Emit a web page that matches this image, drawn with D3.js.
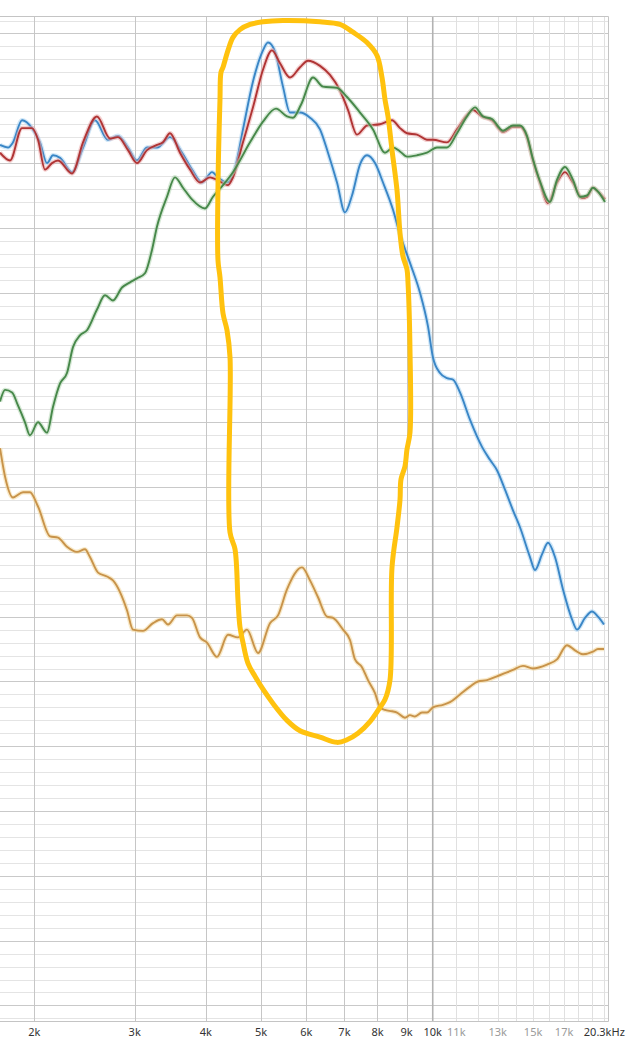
<!DOCTYPE html>
<html>
<head>
<meta charset="utf-8">
<script src="https://cdn.jsdelivr.net/npm/d3@7"></script>
<style>
  html, body { margin: 0; padding: 0; background: #ffffff; }
  svg { display: block; }
</style>
</head>
<body>
<svg id="chart" width="626" height="1043"></svg>
<script>
// ---------- data (frequency in Hz, level in dB) ----------
const redFreq = [1741,1813,1903,1981,2030,2088,2148,2201,2329,2435,2576,2715,2804,2920,3028,3153,3283,3363,3460,3602,3751,3906,4067,4183,4373,4462,4646,4838,5037,5224,5396,5618,5850,6042,6342,6603,6875,7101,7364,7668,8081,8483,8761,9012,9384,9771,10010,10593,11030,11484,11766,12202,12705,13282,13829,14226,14634,14993,15423,15930,16519,17062,17622,18275,18648,19105,19495,20054];
const redDb = [70.8,70.2,72.7,72.7,71.8,69.5,70.0,70.2,69.2,71.6,73.6,71.9,72.0,71.0,70.0,71.0,71.4,71.6,72.3,70.8,69.5,68.5,68.9,68.7,68.3,68.9,71.6,74.3,77.2,78.7,77.7,76.6,77.4,77.9,77.5,76.8,75.6,74.1,72.2,72.9,73.0,73.3,72.7,72.3,72.2,71.8,71.8,71.6,72.6,73.7,74.1,73.6,73.3,72.4,72.8,72.8,72.0,70.2,68.5,66.9,68.5,69.3,68.5,67.3,67.4,68.1,67.8,67.2];

const blueFreq = [1741,1798,1835,1903,1981,2046,2105,2157,2219,2329,2435,2555,2693,2804,2920,3028,3153,3283,3460,3632,3781,3937,4100,4200,4356,4499,4646,4838,5037,5140,5288,5461,5618,5850,6091,6342,6550,6793,7016,7217,7455,7668,7920,8180,8517,8761,9122,9498,9810,10010,10298,10593,10853,11164,11624,12202,12603,12964,13390,13829,14226,14812,15115,15548,15930,16386,16925,17551,17910,18498,19028,19495,19973];
const blueDb = [71.4,71.2,71.6,73.3,72.7,71.6,70.0,70.6,70.4,69.3,71.2,73.3,71.8,72.1,71.2,70.2,71.2,71.2,72.0,70.8,69.5,68.5,69.3,68.9,68.5,69.6,72.6,76.3,78.7,79.3,78.6,75.9,73.9,73.9,73.5,72.6,70.8,68.5,66.2,67.5,69.9,70.6,70.0,68.5,66.4,64.5,62.3,60.0,57.4,55.0,53.8,53.4,53.3,52.3,50.2,48.1,47.1,46.3,44.8,43.2,41.9,39.6,38.6,39.8,40.7,39.6,37.1,34.8,34.0,34.9,35.4,35.0,34.4];

const greenFreq = [1741,1777,1828,1872,1926,1965,2030,2105,2157,2219,2282,2338,2405,2474,2576,2661,2748,2850,2944,3028,3127,3217,3283,3418,3530,3646,3781,3985,4116,4286,4462,4780,5037,5309,5550,5686,5873,6165,6419,6793,7073,7455,7856,8246,8517,8761,9012,9384,9771,10173,10593,11030,11484,11862,12251,12705,13282,13829,14226,14634,14993,15423,16059,16519,17062,17622,18128,18648,19105,19495,20054];
const greenDb = [51.6,52.5,52.3,51.3,50.0,49.0,50.0,49.2,51.2,53.0,53.8,55.8,56.7,57.1,58.7,59.8,59.4,60.4,60.8,61.1,61.5,63.3,65.1,67.4,68.9,68.1,67.2,66.5,67.4,68.3,69.3,71.6,73.2,74.2,73.6,73.5,74.5,76.6,75.9,75.8,75.1,73.9,72.6,70.8,71.2,70.9,70.5,70.6,70.8,71.2,71.2,72.3,73.6,74.3,73.6,73.4,72.5,72.9,72.9,72.1,70.3,68.6,67.0,68.7,69.7,68.7,67.4,67.5,68.1,67.8,67.0];

const orangeFreq = [1741,1777,1835,1911,1965,2030,2131,2201,2282,2376,2454,2504,2587,2682,2748,2827,2908,2979,3102,3230,3350,3432,3559,3706,3781,3906,4017,4183,4373,4553,4722,4937,5182,5352,5550,5897,6091,6291,6524,6684,6959,7159,7305,7514,7699,7920,8081,8246,8483,8656,8940,9122,9308,9575,9771,10010,10423,10722,11164,11624,12006,12451,12964,13498,13829,14399,14993,15865,16519,17200,17765,18349,19105,19495,19973];
const orangeDb = [48.0,45.8,44.2,44.6,44.6,43.5,41.2,41.1,40.4,40.0,40.2,39.6,38.4,38.1,37.8,36.9,35.5,34.0,33.9,34.5,34.8,34.4,35.1,35.1,34.9,33.4,33.0,31.9,33.6,33.4,34.0,32.2,34.5,35.1,37.1,38.8,37.8,36.5,35.0,34.9,34.0,33.2,31.7,31.1,30.1,29.1,28.0,27.8,27.7,27.6,27.2,27.4,27.3,27.6,27.6,28.0,28.2,28.4,29.0,29.6,30.0,30.1,30.4,30.7,30.9,31.2,31.0,31.3,31.7,32.8,32.4,32.1,32.3,32.5,32.5];

// hand-drawn highlight loop (frequency, dB)
const markFreq = [4200,4200,4234,4251,4286,4373,4462,4590,4780,5037,5461,6342,6875,7246,7668,7984,8147,8246,8347,8483,8656,8761,8868,9012,9049,9122,9122,9012,8940,8797,8761,8656,8483,8414,8246,8081,7761,7394,7073,6793,6342,5850,5550,5245,5037,4877,4741,4646,4590,4553,4499,4409,4409,4356,4286,4234];
const markDb = [62.5,68.2,74.9,77.0,77.4,78.7,79.7,80.3,80.7,80.9,81.0,80.9,80.7,80.1,79.3,78.3,76.6,74.9,73.6,71.0,67.9,64.6,62.8,61.8,60.8,55.6,49.2,47.9,46.6,45.6,44.0,41.9,38.8,30.1,28.6,28.0,26.9,26.0,25.5,25.3,25.7,26.2,27.0,28.3,29.4,30.4,31.4,33.0,34.2,36.3,40.2,41.5,55.0,57.1,58.4,61.2];

// axis ticks
const mainTicks = [2000,3000,4000,5000,6000,7000,8000,9000];
const tenTick = [10000];
const minorTicks = [11000,12000,13000,14000,15000,16000,17000,18000,19000,20000];
const labelFreq = [2000,3000,4000,5000,6000,7000,8000,9000,10000,11000,13000,15000,17000,20000];
const labelText = ["2k","3k","4k","5k","6k","7k","8k","9k","10k","11k","13k","15k","17k","20.3kHz"];
const labelFaint = [false,false,false,false,false,false,false,false,false,true,true,true,true,false];

// ---------- drawing ----------
const svg = d3.select("#chart");
const plot = { left: 0, right: 608, top: 16, bottom: 1021 };

const x = d3.scaleLog().domain([1741, 20300]).range([plot.left, plot.right]);
const y = d3.scaleLinear().domain([3.8, 81.35]).range([plot.bottom, plot.top]);

svg.append("rect").attr("width", 626).attr("height", 1043).attr("fill", "#ffffff");

const grid = svg.append("g");
const dbTicks = d3.range(4, 82, 1);
grid.selectAll("line.h").data(dbTicks).join("line")
  .attr("x1", plot.left).attr("x2", plot.right)
  .attr("y1", d => Math.round(y(d)) + 0.5).attr("y2", d => Math.round(y(d)) + 0.5)
  .attr("stroke", d => d % 5 === 0 ? "#c9c9c9" : "#e4e4e4")
  .attr("stroke-width", 1);

grid.selectAll("line.vm").data(minorTicks).join("line")
  .attr("x1", d => Math.round(x(d)) + 0.5).attr("x2", d => Math.round(x(d)) + 0.5)
  .attr("y1", plot.top).attr("y2", plot.bottom)
  .attr("stroke", "#e0e0e0").attr("stroke-width", 1);

grid.selectAll("line.v").data(mainTicks).join("line")
  .attr("x1", d => Math.round(x(d)) + 0.5).attr("x2", d => Math.round(x(d)) + 0.5)
  .attr("y1", plot.top).attr("y2", plot.bottom)
  .attr("stroke", "#c6c6c6").attr("stroke-width", 1);

grid.selectAll("line.vt").data(tenTick).join("line")
  .attr("x1", d => x(d)).attr("x2", d => x(d))
  .attr("y1", plot.top).attr("y2", plot.bottom)
  .attr("stroke", "#b2b2b2").attr("stroke-width", 1.6);

// frame
grid.append("path")
  .attr("d", `M${plot.left},${plot.top + 0.5}H${plot.right + 0.5}V${plot.bottom + 0.5}H${plot.left}`)
  .attr("fill", "none").attr("stroke", "#c4c4c4").attr("stroke-width", 1);

// x labels
svg.append("g").selectAll("text").data(labelFreq).join("text")
  .attr("x", d => x(d))
  .attr("y", 1036)
  .attr("text-anchor", "middle")
  .attr("font-family", "'Noto Sans', 'Open Sans', sans-serif")
  .attr("font-size", 11)
  .attr("fill", (d, i) => labelFaint[i] ? "#9a9a9a" : "#333333")
  .text((d, i) => labelText[i]);

// curves
const line = d3.line().x(d => x(d[0])).y(d => y(d[1])).curve(d3.curveMonotoneX);
const zip = (a, b) => a.map((v, i) => [v, b[i]]);

const series = [
  { f: orangeFreq, v: orangeDb, color: "#c8934a", halo: "#f3d79a" },
  { f: blueFreq, v: blueDb, color: "#3a86c6", halo: "#a9d3f2" },
  { f: redFreq, v: redDb, color: "#b03434", halo: "#e9a9a9" },
  { f: greenFreq, v: greenDb, color: "#47884a", halo: "#b3d6b3" }
];
const cg = svg.append("g");
series.forEach(s => {
  const pts = zip(s.f, s.v);
  cg.append("path").attr("d", line(pts)).attr("fill", "none")
    .attr("stroke", s.halo).attr("stroke-opacity", 0.55).attr("stroke-width", 4.5)
    .attr("stroke-linejoin", "round");
  cg.append("path").attr("d", line(pts)).attr("fill", "none")
    .attr("stroke", s.color).attr("stroke-width", 1.9)
    .attr("stroke-linejoin", "round");
});

// highlight loop
const loop = d3.line().x(d => x(d[0])).y(d => y(d[1])).curve(d3.curveCatmullRomClosed.alpha(0.5));
svg.append("path")
  .attr("d", loop(zip(markFreq, markDb)))
  .attr("fill", "none")
  .attr("stroke", "#ffc20e")
  .attr("stroke-width", 5)
  .attr("stroke-linejoin", "round");
</script>
</body>
</html>
